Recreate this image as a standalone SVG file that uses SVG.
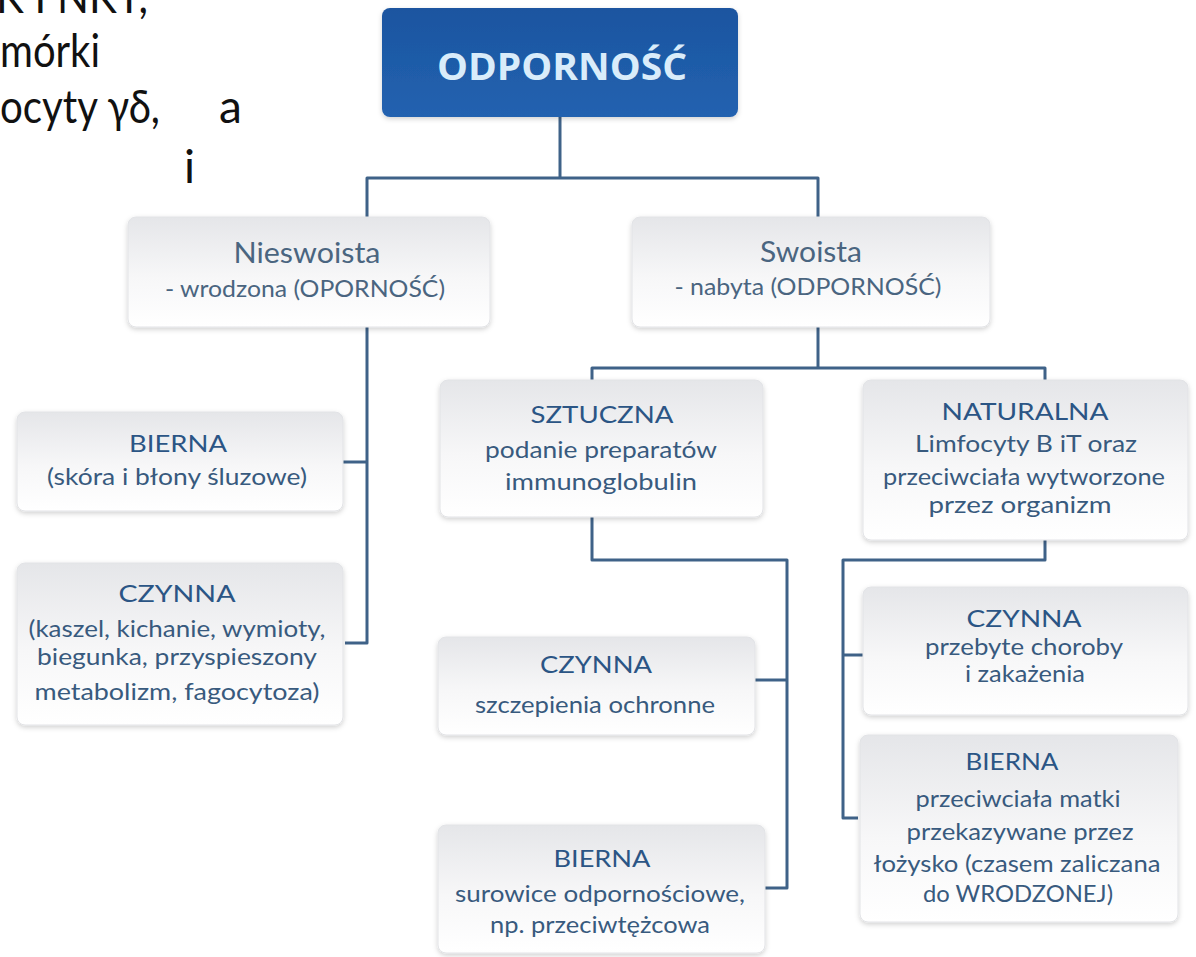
<svg xmlns="http://www.w3.org/2000/svg" width="1196" height="957" viewBox="0 0 1196 957">
<defs>
<linearGradient id="gBox" x1="0" y1="0" x2="0" y2="1">
<stop offset="0" stop-color="#e5e6e9"/>
<stop offset="0.55" stop-color="#f7f7f8"/>
<stop offset="1" stop-color="#ffffff"/>
</linearGradient>
<linearGradient id="gTop" x1="0" y1="0" x2="0" y2="1">
<stop offset="0" stop-color="#1c55a0"/>
<stop offset="1" stop-color="#2262b0"/>
</linearGradient>
<filter id="sh" x="-10%" y="-10%" width="120%" height="130%">
<feDropShadow dx="0" dy="2" stdDeviation="2.5" flood-color="#000" flood-opacity="0.18"/>
</filter>
</defs>
<style>
.box{fill:url(#gBox);stroke:#e2e3e6;stroke-width:1;filter:url(#sh)}
.top{fill:url(#gTop);filter:url(#sh)}
.h{font-family:Lato,"Liberation Sans",sans-serif;font-size:24px;fill:#2b5585;text-anchor:middle}
.b{font-family:Lato,"Liberation Sans",sans-serif;font-size:22.5px;fill:#385a7e;text-anchor:middle}
.t2{font-family:Lato,"Liberation Sans",sans-serif;font-size:29px;fill:#4a6580;text-anchor:middle}
.s2{font-family:Lato,"Liberation Sans",sans-serif;font-size:23px;fill:#4a6580;text-anchor:middle}
.bg{font-family:Lato,"Liberation Sans",sans-serif;font-size:46px;fill:#111}
.ln{fill:none;stroke:#3f6288;stroke-width:3;stroke-linejoin:round;stroke-linecap:butt}
</style>
<rect width="1196" height="957" fill="#ffffff"/>

<g id="bgtext">
<text class="bg" x="-4" y="13" textLength="152" lengthAdjust="spacingAndGlyphs">K I NKT,</text>
<text class="bg" x="0" y="67" textLength="100" lengthAdjust="spacingAndGlyphs">mórki</text>
<text class="bg" x="0" y="123" textLength="160" lengthAdjust="spacingAndGlyphs">ocyty γδ,</text>
<text class="bg" x="219" y="123">a</text>
<text class="bg" x="184" y="183">i</text>
</g>

<g id="connectors">
<path class="ln" d="M560,117 V178"/>
<path class="ln" d="M367,217 V178 H818 V217"/>
<path class="ln" d="M367,327 V643 H345"/>
<path class="ln" d="M343,462 H367"/>
<path class="ln" d="M818,327 V368"/>
<path class="ln" d="M592,380 V368 H1045 V380"/>
<path class="ln" d="M592,517 V560 H787 V888 H765"/>
<path class="ln" d="M755,680 H787"/>
<path class="ln" d="M1045,540 V560 H843 V818 H858"/>
<path class="ln" d="M843,655 H863"/>
</g>

<g id="odpornosc">
<rect class="top" x="382" y="8" width="356" height="109" rx="8"/>
<text x="562" y="80" font-family="'Open Sans','Liberation Sans',sans-serif" font-size="37" font-weight="bold" fill="#d9ecfa" text-anchor="middle" textLength="250" lengthAdjust="spacingAndGlyphs">ODPORNOŚĆ</text>
</g>

<g id="nieswoista">
<rect class="box" x="128" y="217" width="362" height="110" rx="8"/>
<text class="t2" x="307" y="263" textLength="147" lengthAdjust="spacingAndGlyphs">Nieswoista</text>
<text class="s2" x="305" y="297" textLength="280" lengthAdjust="spacingAndGlyphs">- wrodzona (OPORNOŚĆ)</text>
</g>

<g id="swoista">
<rect class="box" x="632" y="217" width="358" height="110" rx="8"/>
<text class="t2" x="811" y="262" textLength="102" lengthAdjust="spacingAndGlyphs">Swoista</text>
<text class="s2" x="808" y="295" textLength="267" lengthAdjust="spacingAndGlyphs">- nabyta (ODPORNOŚĆ)</text>
</g>

<g id="bierna-nieswoista">
<rect class="box" x="17" y="412" width="326" height="99" rx="8"/>
<text class="h" x="178" y="452" textLength="98" lengthAdjust="spacingAndGlyphs">BIERNA</text>
<text class="b" x="177" y="485" textLength="260" lengthAdjust="spacingAndGlyphs">(skóra i błony śluzowe)</text>
</g>

<g id="czynna-nieswoista">
<rect class="box" x="17" y="563" width="326" height="162" rx="8"/>
<text class="h" x="177" y="602" textLength="117" lengthAdjust="spacingAndGlyphs">CZYNNA</text>
<text class="b" x="177" y="637" textLength="297" lengthAdjust="spacingAndGlyphs">(kaszel, kichanie, wymioty,</text>
<text class="b" x="177" y="665" textLength="280" lengthAdjust="spacingAndGlyphs">biegunka, przyspieszony</text>
<text class="b" x="177" y="700" textLength="285" lengthAdjust="spacingAndGlyphs">metabolizm, fagocytoza)</text>
</g>

<g id="sztuczna">
<rect class="box" x="440" y="380" width="323" height="137" rx="8"/>
<text class="h" x="602" y="423" textLength="143" lengthAdjust="spacingAndGlyphs">SZTUCZNA</text>
<text class="b" x="601" y="458" textLength="232" lengthAdjust="spacingAndGlyphs">podanie preparatów</text>
<text class="b" x="601" y="490" textLength="192" lengthAdjust="spacingAndGlyphs">immunoglobulin</text>
</g>

<g id="naturalna">
<rect class="box" x="863" y="380" width="325" height="160" rx="8"/>
<text class="h" x="1025" y="420" textLength="167" lengthAdjust="spacingAndGlyphs">NATURALNA</text>
<text class="b" x="1026" y="452" textLength="222" lengthAdjust="spacingAndGlyphs">Limfocyty B iT oraz</text>
<text class="b" x="1024" y="485" textLength="282" lengthAdjust="spacingAndGlyphs">przeciwciała wytworzone</text>
<text class="b" x="1020" y="513" textLength="183" lengthAdjust="spacingAndGlyphs">przez organizm</text>
</g>

<g id="czynna-sztuczna">
<rect class="box" x="438" y="637" width="317" height="98" rx="8"/>
<text class="h" x="596" y="673" textLength="112" lengthAdjust="spacingAndGlyphs">CZYNNA</text>
<text class="b" x="595" y="713" textLength="240" lengthAdjust="spacingAndGlyphs">szczepienia ochronne</text>
</g>

<g id="bierna-sztuczna">
<rect class="box" x="438" y="825" width="327" height="128" rx="8"/>
<text class="h" x="602" y="867" textLength="97" lengthAdjust="spacingAndGlyphs">BIERNA</text>
<text class="b" x="600" y="902" textLength="290" lengthAdjust="spacingAndGlyphs">surowice odpornościowe,</text>
<text class="b" x="600" y="933" textLength="220" lengthAdjust="spacingAndGlyphs">np. przeciwtężcowa</text>
</g>

<g id="czynna-naturalna">
<rect class="box" x="863" y="587" width="325" height="128" rx="8"/>
<text class="h" x="1024" y="627" textLength="115" lengthAdjust="spacingAndGlyphs">CZYNNA</text>
<text class="b" x="1024" y="655" textLength="198" lengthAdjust="spacingAndGlyphs">przebyte choroby</text>
<text class="b" x="1025" y="682" textLength="120" lengthAdjust="spacingAndGlyphs">i zakażenia</text>
</g>

<g id="bierna-naturalna">
<rect class="box" x="860" y="735" width="318" height="187" rx="8"/>
<text class="h" x="1012" y="770" textLength="93" lengthAdjust="spacingAndGlyphs">BIERNA</text>
<text class="b" x="1018" y="807" textLength="205" lengthAdjust="spacingAndGlyphs">przeciwciała matki</text>
<text class="b" x="1020" y="840" textLength="227" lengthAdjust="spacingAndGlyphs">przekazywane przez</text>
<text class="b" x="1017" y="872" textLength="287" lengthAdjust="spacingAndGlyphs">łożysko (czasem zaliczana</text>
<text class="b" x="1018" y="902" textLength="190" lengthAdjust="spacingAndGlyphs">do WRODZONEJ)</text>
</g>
</svg>
